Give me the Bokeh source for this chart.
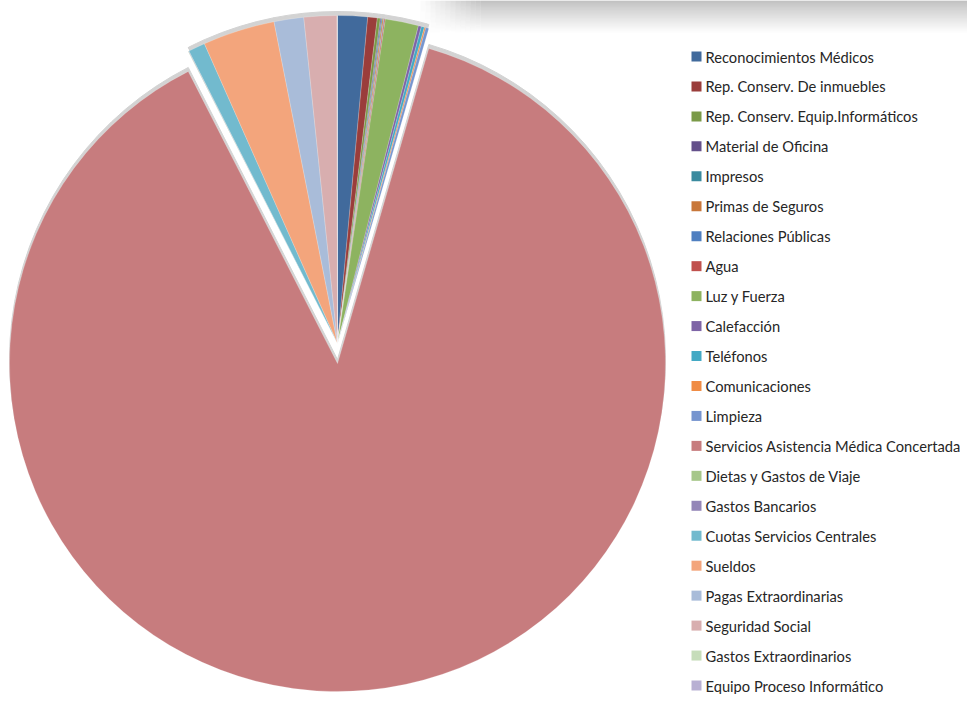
import numpy as np
from bokeh.plotting import figure
from bokeh.models import Range1d, ColumnDataSource
from bokeh.embed import file_html
from bokeh.resources import INLINE
from bokeh.core.properties import value

categories = [
    "Reconocimientos Médicos",
    "Rep. Conserv. De inmuebles",
    "Rep. Conserv. Equip.Informáticos",
    "Material de Oficina",
    "Impresos",
    "Primas de Seguros",
    "Relaciones Públicas",
    "Agua",
    "Luz y Fuerza",
    "Calefacción",
    "Teléfonos",
    "Comunicaciones",
    "Limpieza",
    "Servicios Asistencia Médica Concertada",
    "Dietas y Gastos de Viaje",
    "Gastos Bancarios",
    "Cuotas Servicios Centrales",
    "Sueldos",
    "Pagas Extraordinarias",
    "Seguridad Social",
    "Gastos Extraordinarios",
    "Equipo Proceso Informático",
]
values = [1.47, 0.47, 0.15, 0.05, 0.05, 0.06, 0.03, 0.05, 1.64, 0.15, 0.15, 0.07, 0.15,
          88.0, 0.02, 0.02, 0.83, 3.55, 1.46, 1.62, 0.01, 0.01]
colors = ["#416A9C", "#9A3D3B", "#7A9A48", "#64508A", "#3A8A9E", "#C8773A", "#4F7FC0",
          "#C0504D", "#8DB360", "#7E64A6", "#43A9C4", "#F08C45", "#7695CF", "#C77C7E",
          "#A6C78A", "#9486B8", "#72BACE", "#F3A57C", "#A9BCD9", "#D8AEAF", "#C6DDBA",
          "#B8B0D3"]
exploded = "Servicios Asistencia Médica Concertada"

W, H = 967, 694


def sy(y):
    return H - y


p = figure(width=W, height=H, output_backend="svg", toolbar_location=None,
           x_range=Range1d(0, W), y_range=Range1d(0, H),
           x_axis_location=None, y_axis_location=None, min_border=0)
p.grid.visible = False
p.outline_line_color = None
p.background_fill_color = "white"

# top shadow band (page decoration)
xs0, xs1, ys0, ys1, cs, als = [], [], [], [], [], []
for yy in range(0, 32):
    lvl = int(172 + (255 - 172) * (yy / 32.0) ** 0.9)
    col = "#%02x%02x%02x" % (lvl, lvl, lvl)
    for xx in range(415, 480, 5):
        xs0.append(xx); xs1.append(xx + 5)
        ys0.append(sy(yy + 1)); ys1.append(sy(yy))
        cs.append(col); als.append(((xx - 415) / 65.0) ** 1.2)
    xs0.append(480); xs1.append(W)
    ys0.append(sy(yy + 1)); ys1.append(sy(yy))
    cs.append(col); als.append(1.0)
p.quad(left=xs0, right=xs1, bottom=ys0, top=ys1, fill_color=cs, fill_alpha=als, line_color=None)

# pie geometry
vals = np.array(values, dtype=float)
frac = vals / vals.sum()
cum_end = np.cumsum(frac)
cum_start = cum_end - frac
start_angle = np.pi / 2 - 2 * np.pi * cum_end
end_angle = np.pi / 2 - 2 * np.pi * cum_start

R = 328
cx = 337
cy_main = sy(343)
cy_expl = sy(363)
is_expl = np.array([c == exploded for c in categories])
cxs = np.full(len(categories), cx, dtype=float)
cys = np.where(is_expl, cy_expl, cy_main).astype(float)

src = ColumnDataSource(dict(x=cxs, y=cys, sa=start_angle, ea=end_angle, color=colors, name=categories))

# shadows (offset upward)
SH = 4
sh_src = ColumnDataSource(dict(x=cxs, y=cys + SH, sa=start_angle, ea=end_angle))
p.wedge(x="x", y="y", radius=R, start_angle="sa", end_angle="ea", source=sh_src,
        fill_color="#D3D3D3", line_color="#D3D3D3", line_width=1)

p.wedge(x="x", y="y", radius=R, start_angle="sa", end_angle="ea", source=src,
        fill_color="color", line_color="white", line_width=0.4, line_alpha=0.5)

# legend
n = len(categories)
ly0, ly1 = 56, 685
leg_y = [sy(ly0 + (ly1 - ly0) * i / (n - 1)) for i in range(n)]
leg_src = ColumnDataSource(dict(x=[696] * n, tx=[705] * n, y=leg_y, color=colors, name=categories))
p.scatter(x="x", y="y", source=leg_src, marker="square", size=10, fill_color="color", line_color=None)
p.text(x="tx", y="y", text="name", source=leg_src, text_font=value("Lato"), text_font_size="14.7px",
       text_color="#262626", text_baseline="middle", text_align="left")

open("out.html", "w").write(file_html(p, INLINE))
